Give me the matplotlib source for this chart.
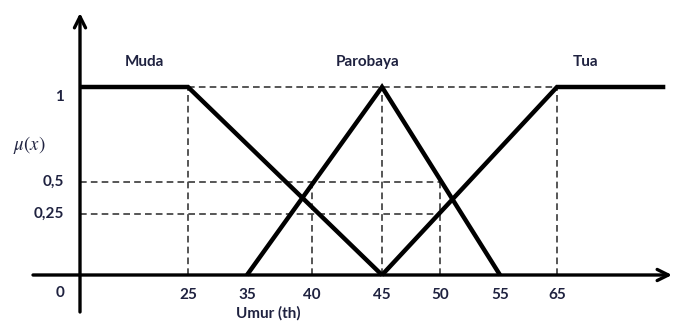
import numpy as np
import matplotlib.pyplot as plt

# membership functions (umur in years)
muda_x = [0, 25, 45]
muda_y = [1, 1, 0]
parobaya_x = [35, 45, 55]
parobaya_y = [0, 1, 0]
tua_x = [45, 65, 84]
tua_y = [0, 1, 1]

set_names = ['Muda', 'Parobaya', 'Tua']
set_name_x = [15, 44, 70]

x_ticks = [25, 35, 40, 45, 50, 55, 65]
y_ticks = [1, 0.5, 0.25]
y_tick_labels = ['1', '0,5', '0,25']

# dashed guide lines: (x0, x1, y0, y1)
guides = [
    (25, 65, 1, 1),
    (0, 50, 0.5, 0.5),
    (0, 50, 0.25, 0.25),
    (25, 25, 0, 1),
    (45, 45, 0, 1),
    (65, 65, 0, 1),
    (40, 40, 0, 0.5),
    (50, 50, 0, 0.5),
]

# the original drawing has an uneven axis; piecewise scale (layout only)
x_knots = [0, 25, 35, 40, 45, 50, 55, 65]
x_px = [80, 188, 247, 312, 382, 440, 500, 557]
y_knots = [0, 0.25, 0.5, 1]
y_px = [47, 108, 140, 235]


def piecewise(a, b):
    a = np.asarray(a, float)
    b = np.asarray(b, float)
    s0 = (b[1] - b[0]) / (a[1] - a[0])
    s1 = (b[-1] - b[-2]) / (a[-1] - a[-2])

    def f(v):
        v = np.asarray(v, float)
        out = np.interp(v, a, b)
        out = np.where(v < a[0], b[0] + (v - a[0]) * s0, out)
        out = np.where(v > a[-1], b[-1] + (v - a[-1]) * s1, out)
        return out
    return f


W, H = 675, 322
fig = plt.figure(figsize=(W / 100, H / 100), dpi=100)
ax = fig.add_axes([0, 0, 1, 1])
ax.set_xscale('function', functions=(piecewise(x_knots, x_px), piecewise(x_px, x_knots)))
ax.set_yscale('function', functions=(piecewise(y_knots, y_px), piecewise(y_px, y_knots)))
ax.set_xlim(float(piecewise(x_px, x_knots)(0)), float(piecewise(x_px, x_knots)(W)))
ax.set_ylim(float(piecewise(y_px, y_knots)(0)), float(piecewise(y_px, y_knots)(H)))
ax.axis('off')

for x0, x1, y0, y1 in guides:
    ax.plot([x0, x1], [y0, y1], color='#3a3a3a', lw=1.2, ls=(0, (4, 2.5)), zorder=1)

for xs, ys in [(muda_x, muda_y), (parobaya_x, parobaya_y), (tua_x, tua_y)]:
    ax.plot(xs, ys, color='black', lw=3.2, solid_capstyle='butt', solid_joinstyle='miter', zorder=3)

# axes with arrow heads
arrow = dict(arrowstyle='->', lw=2.4, color='black', mutation_scale=20, shrinkA=0, shrinkB=0)
ax.annotate('', xy=(1 - 3 / W, 0), xycoords=('axes fraction', 'data'),
            xytext=(33 / W, 0), textcoords=('axes fraction', 'data'), arrowprops=arrow)
ax.annotate('', xy=(0, 1 - 13 / H), xycoords=('data', 'axes fraction'),
            xytext=(0, 10 / H), textcoords=('data', 'axes fraction'), arrowprops=arrow)

txt = dict(fontfamily='Lato', fontweight='bold', color='#1f2240', fontsize=11)

for name, nx in zip(set_names, set_name_x):
    ax.annotate(name, xy=(nx, 1), xytext=(0, 25), textcoords='offset pixels',
                ha='center', va='center', **txt)

for v in x_ticks:
    ax.annotate(str(v), xy=(v, 0), xytext=(0, -20), textcoords='offset pixels',
                ha='center', va='center', **txt)

for v, lab in zip(y_ticks, y_tick_labels):
    dy = -10 if v == 1 else 0
    ax.annotate(lab, xy=(0, v), xytext=(-16, dy), textcoords='offset pixels',
                ha='right', va='center', **txt)
ax.annotate('0', xy=(0, 0), xytext=(-16, -18), textcoords='offset pixels',
            ha='right', va='center', **txt)

ax.text(29 / W, 1 - 145 / H, r'$\mu(x)$', transform=ax.transAxes, ha='center', va='center',
        fontsize=13.5, color='#1f2240', math_fontfamily='stix')
ax.text(268 / W, 1 - 313 / H, 'Umur (th)', transform=ax.transAxes, ha='center', va='center', **txt)

fig.savefig('out.png', dpi=100)
